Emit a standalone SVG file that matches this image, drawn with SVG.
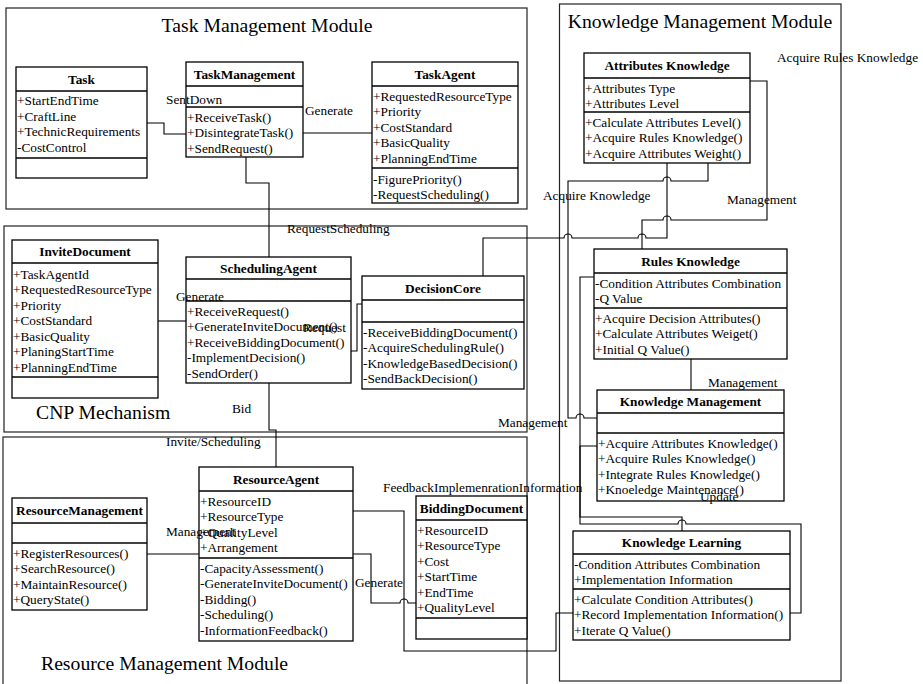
<svg xmlns="http://www.w3.org/2000/svg" width="923" height="684" viewBox="0 0 923 684">
<style>
text{font-family:"Liberation Serif","Times New Roman",serif;fill:#000}
.title{font-size:19.7px}
.t{font-size:13.3px}
.h{font-size:13.3px;font-weight:bold;text-anchor:middle}
.frame{fill:none;stroke:#222;stroke-width:1.2}
.node rect{fill:#fff;stroke:#000;stroke-width:1.3}
.node line{stroke:#000;stroke-width:1.3}
#connectors path{fill:none;stroke:#000;stroke-width:1.1}
</style>
<rect width="923" height="684" fill="#fff"/>

<g id="frames">
<rect class="frame" x="6" y="8" width="521" height="201"/>
<rect class="frame" x="4" y="226" width="523" height="206"/>
<rect class="frame" x="3" y="437" width="524" height="260"/>
<rect class="frame" x="559.5" y="4" width="281.5" height="677"/>
<text class="title" x="267" y="32" text-anchor="middle">Task Management Module</text>
<text class="title" x="700" y="28" text-anchor="middle">Knowledge Management Module</text>
<text class="title" x="36" y="419">CNP Mechanism</text>
<text class="title" x="41" y="670">Resource Management Module</text>
</g>

<g id="connectors">
<path d="M147,123 H164 V134 H186"/>
<path d="M303,133 H372"/>
<path d="M246,157 V183 H269 V257"/>
<path d="M158,321 H186"/>
<path d="M351,351 H357 V304 H362"/>
<path d="M483,276 V238 H564 A4,4 0 0 1 572,238 H638 A4,4 0 0 1 646,238 H667 V163"/>
<path d="M750,81 H767 V220 H671 A4,4 0 0 0 663,220 H642 V249"/>
<path d="M708,163 V181 H671 A4,4 0 0 0 663,181 H568 V418 H576 A4,4 0 0 1 584,418 H597"/>
<path d="M691,359 V390"/>
<path d="M597,446 H580 V517 H682 V531"/>
<path d="M594,277 H580 V524 H678 A4,4 0 0 1 686,524 H801 V613 H790"/>
<path d="M269,383 V430 H276 V467"/>
<path d="M147,554 H199"/>
<path d="M353,554 H371 V603 H400 A4,4 0 0 1 408,603 H416"/>
<path d="M353,511 H404 V651 H556 V613 H573"/>
</g>

<g id="task" class="node">
<rect x="16" y="67" width="131" height="111"/>
<line x1="16" y1="91" x2="147" y2="91"/><line x1="16" y1="158" x2="147" y2="158"/>
<text class="h" x="81.5" y="83.5">Task</text>
<text class="t" x="17" y="105">+StartEndTime</text>
<text class="t" x="17" y="120.5">+CraftLine</text>
<text class="t" x="17" y="136">+TechnicRequirements</text>
<text class="t" x="17" y="151.5">-CostControl</text>
</g>

<g id="taskmanagement" class="node">
<rect x="186" y="62" width="117" height="95"/>
<line x1="186" y1="86" x2="303" y2="86"/><line x1="186" y1="107" x2="303" y2="107"/>
<text class="h" x="244.5" y="78.5">TaskManagement</text>
<text class="t" x="187" y="121.5">+ReceiveTask()</text>
<text class="t" x="187" y="137">+DisintegrateTask()</text>
<text class="t" x="187" y="152.5">+SendRequest()</text>
</g>

<g id="taskagent" class="node">
<rect x="372" y="62" width="146" height="141"/>
<line x1="372" y1="86" x2="518" y2="86"/><line x1="372" y1="168" x2="518" y2="168"/>
<text class="h" x="445" y="78.5">TaskAgent</text>
<text class="t" x="373" y="100.5">+RequestedResourceType</text>
<text class="t" x="373" y="116">+Priority</text>
<text class="t" x="373" y="131.5">+CostStandard</text>
<text class="t" x="373" y="147">+BasicQuality</text>
<text class="t" x="373" y="162.5">+PlanningEndTime</text>
<text class="t" x="373" y="184">-FigurePriority()</text>
<text class="t" x="373" y="199">-RequestScheduling()</text>
</g>

<g id="invitedocument" class="node">
<rect x="12" y="240" width="146" height="158"/>
<line x1="12" y1="263" x2="158" y2="263"/><line x1="12" y1="377" x2="158" y2="377"/>
<text class="h" x="85" y="256">InviteDocument</text>
<text class="t" x="13" y="278.5">+TaskAgentId</text>
<text class="t" x="13" y="294">+RequestedResourceType</text>
<text class="t" x="13" y="309.5">+Priority</text>
<text class="t" x="13" y="325">+CostStandard</text>
<text class="t" x="13" y="340.5">+BasicQuality</text>
<text class="t" x="13" y="356">+PlaningStartTime</text>
<text class="t" x="13" y="371.5">+PlanningEndTime</text>
</g>

<g id="schedulingagent" class="node">
<rect x="186" y="257" width="165" height="126"/>
<line x1="186" y1="279" x2="351" y2="279"/><line x1="186" y1="301" x2="351" y2="301"/>
<text class="h" x="268.5" y="272.5">SchedulingAgent</text>
<text class="t" x="187" y="315.5">+ReceiveRequest()</text>
<text class="t" x="187" y="331">+GenerateInviteDocument()</text>
<text class="t" x="187" y="346.5">+ReceiveBiddingDocument()</text>
<text class="t" x="187" y="362">-ImplementDecision()</text>
<text class="t" x="187" y="377.5">-SendOrder()</text>
</g>

<g id="decisioncore" class="node">
<rect x="362" y="276" width="162" height="113"/>
<line x1="362" y1="300" x2="524" y2="300"/><line x1="362" y1="322" x2="524" y2="322"/>
<text class="h" x="443" y="292.5">DecisionCore</text>
<text class="t" x="363" y="336.5">-ReceiveBiddingDocument()</text>
<text class="t" x="363" y="352">-AcquireSchedulingRule()</text>
<text class="t" x="363" y="367.5">-KnowledgeBasedDecision()</text>
<text class="t" x="363" y="383">-SendBackDecision()</text>
</g>

<g id="resourcemanagement" class="node">
<rect x="12" y="498" width="135" height="112"/>
<line x1="12" y1="523" x2="147" y2="523"/><line x1="12" y1="543" x2="147" y2="543"/>
<text class="h" x="79.5" y="515">ResourceManagement</text>
<text class="t" x="13" y="557.5">+RegisterResources()</text>
<text class="t" x="13" y="573">+SearchResource()</text>
<text class="t" x="13" y="588.5">+MaintainResource()</text>
<text class="t" x="13" y="604">+QueryState()</text>
</g>

<g id="resourceagent" class="node">
<rect x="199" y="467" width="154" height="174"/>
<line x1="199" y1="491" x2="353" y2="491"/><line x1="199" y1="558" x2="353" y2="558"/>
<text class="h" x="276" y="483.5">ResourceAgent</text>
<text class="t" x="200" y="505.5">+ResourceID</text>
<text class="t" x="200" y="521">+ResourceType</text>
<text class="t" x="200" y="536.5">+QualityLevel</text>
<text class="t" x="200" y="552">+Arrangement</text>
<text class="t" x="200" y="572.5">-CapacityAssessment()</text>
<text class="t" x="200" y="588">-GenerateInviteDocument()</text>
<text class="t" x="200" y="603.5">-Bidding()</text>
<text class="t" x="200" y="619">-Scheduling()</text>
<text class="t" x="200" y="634.5">-InformationFeedback()</text>
</g>

<g id="biddingdocument" class="node">
<rect x="416" y="496" width="111" height="143"/>
<line x1="416" y1="520" x2="527" y2="520"/><line x1="416" y1="618" x2="527" y2="618"/>
<text class="h" x="471.5" y="512.5">BiddingDocument</text>
<text class="t" x="417" y="534.5">+ResourceID</text>
<text class="t" x="417" y="550">+ResourceType</text>
<text class="t" x="417" y="565.5">+Cost</text>
<text class="t" x="417" y="581">+StartTime</text>
<text class="t" x="417" y="596.5">+EndTime</text>
<text class="t" x="417" y="612">+QualityLevel</text>
</g>

<g id="attributesknowledge" class="node">
<rect x="584" y="53" width="166" height="110"/>
<line x1="584" y1="78" x2="750" y2="78"/><line x1="584" y1="112" x2="750" y2="112"/>
<text class="h" x="667" y="70">Attributes Knowledge</text>
<text class="t" x="585" y="92.5">+Attributes Type</text>
<text class="t" x="585" y="108">+Attributes Level</text>
<text class="t" x="585" y="126.5">+Calculate Attributes Level()</text>
<text class="t" x="585" y="142">+Acquire Rules Knowledge()</text>
<text class="t" x="585" y="157.5">+Acquire Attributes Weight()</text>
</g>

<g id="rulesknowledge" class="node">
<rect x="594" y="249" width="193" height="110"/>
<line x1="594" y1="273" x2="787" y2="273"/><line x1="594" y1="308" x2="787" y2="308"/>
<text class="h" x="690.5" y="265.5">Rules Knowledge</text>
<text class="t" x="595" y="287.5">-Condition Attributes Combination</text>
<text class="t" x="595" y="303">-Q Value</text>
<text class="t" x="595" y="322.5">+Acquire Decision Attributes()</text>
<text class="t" x="595" y="338">+Calculate Attributes Weiget()</text>
<text class="t" x="595" y="353.5">+Initial Q Value()</text>
</g>

<g id="knowledgemanagement" class="node">
<rect x="597" y="390" width="187" height="111"/>
<line x1="597" y1="413" x2="784" y2="413"/><line x1="597" y1="433" x2="784" y2="433"/>
<text class="h" x="690.5" y="406">Knowledge Management</text>
<text class="t" x="598" y="447.5">+Acquire Attributes Knowledge()</text>
<text class="t" x="598" y="463">+Acquire Rules Knowledge()</text>
<text class="t" x="598" y="478.5">+Integrate Rules Knowledge()</text>
<text class="t" x="598" y="494">+Knoeledge Maintenance()</text>
</g>

<g id="knowledgelearning" class="node">
<rect x="573" y="531" width="217" height="109"/>
<line x1="573" y1="554" x2="790" y2="554"/><line x1="573" y1="589" x2="790" y2="589"/>
<text class="h" x="681.5" y="547">Knowledge Learning</text>
<text class="t" x="574" y="568.5">-Condition Attributes Combination</text>
<text class="t" x="574" y="584">+Implementation Information</text>
<text class="t" x="574" y="603.5">+Calculate Condition Attributes()</text>
<text class="t" x="574" y="619">+Record Implementation Information()</text>
<text class="t" x="574" y="634.5">+Iterate Q Value()</text>
</g>

<g id="labels">
<text class="t" x="166" y="104">SentDown</text>
<text class="t" x="305" y="114.5">Generate</text>
<text class="t" x="287" y="233">RequestScheduling</text>
<text class="t" x="176" y="301">Generate</text>
<text class="t" x="303" y="332">Request</text>
<text class="t" x="232" y="413">Bid</text>
<text class="t" x="166" y="446">Invite/Scheduling</text>
<text class="t" x="166" y="536">Management</text>
<text class="t" x="355" y="586.5">Generate</text>
<text class="t" x="383" y="492">FeedbackImplemenrationInformation</text>
<text class="t" x="498" y="427">Management</text>
<text class="t" x="777" y="62">Acquire Rules Knowledge</text>
<text class="t" x="543" y="200">Acquire Knowledge</text>
<text class="t" x="727" y="203.5">Management</text>
<text class="t" x="708" y="387">Management</text>
<text class="t" x="700" y="501">Update</text>
</g>
</svg>
